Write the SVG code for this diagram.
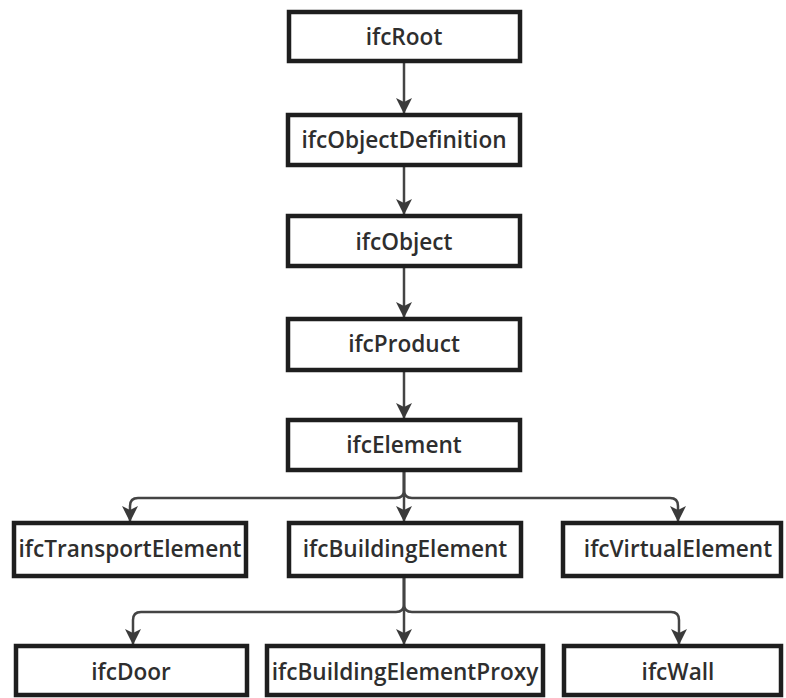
<svg xmlns="http://www.w3.org/2000/svg" width="786" height="698" viewBox="0 0 786 698">
<defs>
<style>
.box{fill:#fff;stroke:#1e1e1e;stroke-width:4.5}
.lbl{font-family:"Open Sans","Noto Sans","Liberation Sans",sans-serif;font-weight:600;font-size:22.6px;fill:#2e2e2e;text-anchor:middle}
.con{fill:none;stroke:#444;stroke-width:2.5}
</style>
<marker id="ah" viewBox="0 0 16 16" refX="15" refY="8" markerWidth="16" markerHeight="16" markerUnits="userSpaceOnUse" orient="auto">
<path d="M0,0 L16,8 L0,16 L4,8 z" fill="#3a3a3a"/>
</marker>
</defs>
<rect width="786" height="698" fill="#fff"/>
<g id="connectors" class="con" marker-end="url(#ah)">
<path d="M404,63 V113"/>
<path d="M404,167 V214"/>
<path d="M404,268 V317"/>
<path d="M404,372 V418"/>
<path d="M404,472 V521"/>
<path d="M404,472 V490 Q404,498 396,498 H138 Q130,498 130,506 V521"/>
<path d="M404,472 V490 Q404,498 412,498 H670 Q678,498 678,506 V521"/>
<path d="M404,578 V644"/>
<path d="M404,578 V604 Q404,612 396,612 H141 Q133,612 133,620 V644"/>
<path d="M404,578 V604 Q404,612 412,612 H671 Q679,612 679,620 V644"/>
</g>
<g id="ifcRoot"><rect class="box" x="289" y="12" width="231" height="49"/><text class="lbl" x="404" y="45">ifcRoot</text></g>
<g id="ifcObjectDefinition"><rect class="box" x="288" y="115" width="232" height="50"/><text class="lbl" x="404" y="148">ifcObjectDefinition</text></g>
<g id="ifcObject"><rect class="box" x="288" y="216" width="232" height="50"/><text class="lbl" x="404" y="250">ifcObject</text></g>
<g id="ifcProduct"><rect class="box" x="288" y="319" width="232" height="51"/><text class="lbl" x="404" y="352">ifcProduct</text></g>
<g id="ifcElement"><rect class="box" x="288" y="420" width="232" height="50"/><text class="lbl" x="404" y="453">ifcElement</text></g>
<g id="ifcTransportElement"><rect class="box" x="14" y="523" width="232" height="53"/><text class="lbl" x="130" y="557">ifcTransportElement</text></g>
<g id="ifcBuildingElement"><rect class="box" x="289" y="523" width="232" height="53"/><text class="lbl" x="405" y="557">ifcBuildingElement</text></g>
<g id="ifcVirtualElement"><rect class="box" x="563" y="523" width="218" height="53"/><text class="lbl" x="678" y="557">ifcVirtualElement</text></g>
<g id="ifcDoor"><rect class="box" x="16" y="646" width="231" height="49"/><text class="lbl" x="131" y="680">ifcDoor</text></g>
<g id="ifcBuildingElementProxy"><rect class="box" x="267" y="646" width="276" height="49"/><text class="lbl" x="405" y="680">ifcBuildingElementProxy</text></g>
<g id="ifcWall"><rect class="box" x="564" y="646" width="217" height="49"/><text class="lbl" x="678" y="680">ifcWall</text></g>
</svg>
